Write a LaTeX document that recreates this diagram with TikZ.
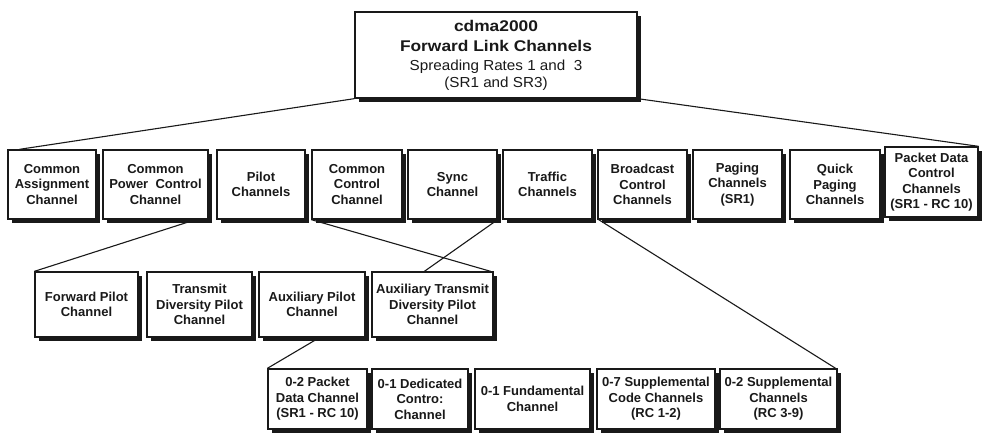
\documentclass[tikz,border=0pt]{standalone}
\usepackage{fontspec}
\setmainfont{Liberation Sans}
\newfontfamily\titlefont[FakeStretch=1.12]{Liberation Sans}
\newfontfamily\subtitlefont[FakeStretch=1.05]{Liberation Sans}
\usetikzlibrary{shadows,calc}
\definecolor{ink}{RGB}{25,25,25}
\tikzset{
  chbox/.style={draw=ink, fill=white, line width=1.3pt, rectangle, align=center,
    inner sep=1pt, text=ink,
    font=\fontsize{13}{15.5}\selectfont\bfseries,
    drop shadow={shadow xshift=4pt, shadow yshift=-4pt, opacity=1, fill=ink}},
  link/.style={draw=ink, line width=1.1pt}
}
% box placed by its left, top, right, bottom edges
\newcommand\chan[7][]{%
  \node[chbox, minimum width={#5-#3}, minimum height={#6-#4}, #1]
    (#2) at ({(#3+#5)/2},{(#4+#6)/2}) {#7};}
\begin{document}
\begin{tikzpicture}[x=1pt,y=-1pt]
\useasboundingbox (0,0) rectangle (983,433);
\fill[white] (0,0) rectangle (983,433);

% root
\chan[font=\fontsize{15}{20.5}\selectfont]{root}{355}{12}{637}{98}{%
  {\titlefont\fontsize{15.5}{20}\selectfont\bfseries cdma2000}\\
  {\titlefont\fontsize{15.5}{20}\selectfont\bfseries Forward Link Channels}\\[-1.5pt]
  {\subtitlefont\fontsize{14.5}{17}\selectfont\mdseries Spreading Rates 1 and\ \ 3}\\[-4pt]
  {\subtitlefont\fontsize{14.5}{17}\selectfont\mdseries (SR1 and SR3)}}

% first level
\chan{cac}{8}{150}{96}{219}{Common\\Assignment\\Channel}
\chan{cpcc}{103}{150}{208}{219}{Common\\Power\ \ Control\\Channel}
\chan{pilot}{217}{150}{305}{219}{Pilot\\Channels}
\chan{ccc}{312}{150}{402}{219}{Common\\Control\\Channel}
\chan{sync}{408}{150}{497}{219}{Sync\\Channel}
\chan{traffic}{503}{150}{592}{219}{Traffic\\Channels}
\chan{bcc}{598}{150}{687}{219}{Broadcast\\Control\\Channels}
\chan{paging}{693}{150}{782}{219}{Paging\\Channels\\(SR1)}
\chan{qpch}{790}{150}{880}{219}{Quick\\Paging\\Channels}
\chan{pdcc}{885}{147}{978}{217}{Packet Data\\Control\\Channels\\(SR1 - RC 10)}

% pilot channels
\chan{fpc}{35}{272}{138}{337}{Forward Pilot\\Channel}
\chan{tdpc}{147}{272}{252}{337}{Transmit\\Diversity Pilot\\Channel}
\chan{apc}{259}{272}{365}{337}{Auxiliary Pilot\\Channel}
\chan{atdpc}{372}{272}{493}{337}{Auxiliary Transmit\\Diversity Pilot\\Channel}

% traffic channels
\chan{pdch}{268}{369}{367}{429}{0-2 Packet\\Data Channel\\(SR1 - RC 10)}
\chan{dcch}{372}{369}{468}{429}{0-1 Dedicated\\Contro:\\Channel}
\chan{fch}{475}{369}{590}{429}{0-1 Fundamental\\Channel}
\chan{scch}{597}{369}{715}{429}{0-7 Supplemental\\Code Channels\\(RC 1-2)}
\chan{sch}{720}{369}{837}{429}{0-2 Supplemental\\Channels\\(RC 3-9)}

% connectors
\draw[link] (root.south west) -- ($(cac.north west)+(12,0)$);
\draw[link] (root.south east) -- (pdcc.north east);
\draw[link] ($(cpcc.south east)+(-13,0)$) -- (fpc.north west);
\draw[link] (ccc.south west) -- ($(atdpc.north east)+(-3,0)$);
\draw[link] (sync.south east) -- ($(atdpc.north west)+(53,0)$);
\draw[link] ($(traffic.south east)+(6,0)$) -- ($(sch.north east)+(-2,0)$);
\draw[link] ($(apc.south west)+(61,0)$) -- (pdch.north west);
\end{tikzpicture}
\end{document}
